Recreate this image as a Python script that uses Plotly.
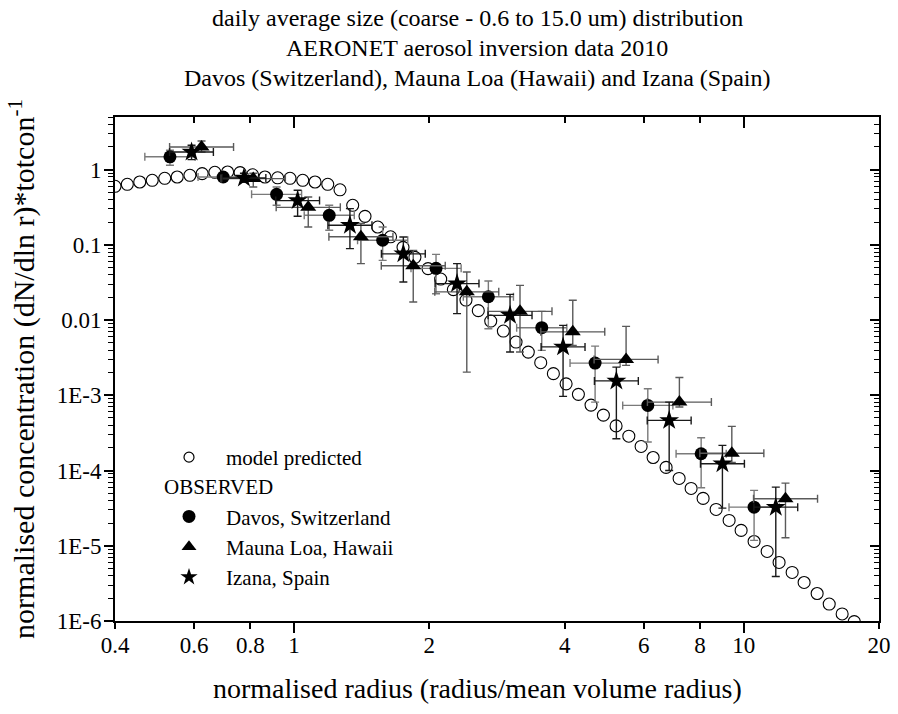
import math
import plotly.graph_objects as go

# ---------------- data ----------------
model_x = [0.400, 0.426, 0.454, 0.484, 0.516, 0.550, 0.587, 0.625, 0.667, 0.712,
           0.759, 0.809, 0.862, 0.920, 0.980, 1.046, 1.114, 1.189, 1.266, 1.351,
           1.439, 1.536, 1.640, 1.748, 1.858, 1.987, 2.120, 2.262, 2.413, 2.570,
           2.739, 2.922, 3.118, 3.320, 3.538, 3.775, 4.029, 4.291, 4.578, 4.877,
           5.204, 5.555, 5.916, 6.291, 6.723, 7.187, 7.642, 8.126, 8.686, 9.284,
           9.872, 10.55, 11.28, 11.99, 12.82, 13.63, 14.57, 15.50, 16.56, 17.62]
model_y = [0.600, 0.637, 0.684, 0.721, 0.766, 0.797, 0.840, 0.885, 0.921, 0.929,
           0.912, 0.853, 0.797, 0.778, 0.766, 0.721, 0.684, 0.637, 0.539, 0.335,
           0.239, 0.1725, 0.1278, 0.0926, 0.0682, 0.0483, 0.0351, 0.0254, 0.01845, 0.01334,
           0.0097, 0.00714, 0.0051, 0.00375, 0.00271, 0.00194, 0.00142, 0.00103, 0.000741, 0.000545,
           0.000392, 0.000286, 0.000209, 0.000149, 0.00011, 7.85e-5, 5.78e-5, 4.26e-5, 3.04e-5, 2.17e-5,
           1.6e-5, 1.14e-5, 8.4e-6, 6.0e-6, 4.42e-6, 3.25e-6, 2.32e-6, 1.68e-6, 1.24e-6, 9.8e-7]

davos_x = [0.530, 0.696, 0.915, 1.198, 1.575, 2.070, 2.706, 3.557, 4.674, 6.122, 8.045, 10.55]
davos_y = [1.48, 0.797, 0.469, 0.247, 0.115, 0.0487, 0.0204, 0.00792, 0.00268, 0.000734, 0.000167, 3.26e-5]
davos_xlo = [0.466, 0.612, 0.805, 1.054, 1.385, 1.821, 2.380, 3.128, 4.111, 5.384, 7.076, 9.279]
davos_xhi = [0.603, 0.791, 1.040, 1.362, 1.791, 2.354, 3.077, 4.044, 5.314, 6.961, 9.147, 12.00]
davos_ylo = [1.141, 0.721, 0.335, 0.156, 0.0622, 0.0224, 0.00768, 0.00395, 0.000812, 0.000239, 5.91e-5, 1.18e-5]
davos_yhi = [1.806, 0.893, 0.588, 0.335, 0.1725, 0.0747, 0.0330, 0.01305, 0.00451, 0.00122, 0.000273, 5.44e-5]

mauna_x = [0.623, 0.812, 1.076, 1.409, 1.842, 2.423, 3.182, 4.169, 5.478, 7.197, 9.413, 12.39]
mauna_y = [2.00, 0.759, 0.315, 0.128, 0.0526, 0.0237, 0.01305, 0.00697, 0.0030, 0.000812, 0.000170, 4.22e-5]
mauna_xlo = [0.529, 0.689, 0.913, 1.196, 1.564, 2.057, 2.701, 3.539, 4.650, 6.110, 7.991, 10.52]
mauna_xhi = [0.734, 0.957, 1.268, 1.660, 2.170, 2.854, 3.748, 4.911, 6.453, 8.478, 11.09, 14.60]
mauna_ylo = [1.714, 0.587, 0.1725, 0.0562, 0.01736, 0.002035, 0.003754, 0.00461, 0.0025, 0.00070, 0.000128, 1.28e-5]
mauna_yhi = [2.401, 0.893, 0.432, 0.193, 0.0845, 0.0435, 0.0289, 0.0183, 0.00824, 0.00172, 0.000386, 6.80e-5]

izana_x = [0.592, 0.774, 1.019, 1.332, 1.751, 2.305, 3.024, 3.967, 5.212, 6.830, 8.971, 11.79]
izana_y = [1.714, 0.773, 0.387, 0.1817, 0.0759, 0.0305, 0.01155, 0.0044, 0.001554, 0.000464, 0.000123, 3.26e-5]
izana_xlo = [0.529, 0.692, 0.911, 1.190, 1.565, 2.060, 2.702, 3.545, 4.658, 6.104, 8.017, 10.54]
izana_xhi = [0.662, 0.866, 1.140, 1.491, 1.959, 2.579, 3.384, 4.439, 5.832, 7.643, 10.04, 13.19]
izana_ylo = [1.358, 0.678, 0.2393, 0.089, 0.032, 0.01217, 0.003754, 0.000967, 0.000265, 0.0001003, 3.16e-5, 3.91e-6]
izana_yhi = [2.104, 0.893, 0.5305, 0.303, 0.127, 0.0562, 0.02197, 0.0085, 0.00237, 0.000812, 0.000216, 6.02e-5]

x_tickvals = [0.4, 0.6, 0.8, 1, 2, 4, 6, 8, 10, 20]
x_ticktext = ["0.4", "0.6", "0.8", "1", "2", "4", "6", "8", "10", "20"]
x_long_ticks = [1, 10]
y_tickvals = [1, 0.1, 0.01, 1e-3, 1e-4, 1e-5, 1e-6]
y_ticktext = ["1", "0.1", "0.01", "1E-3", "1E-4", "1E-5", "1E-6"]

title_lines = ["daily average size (coarse - 0.6 to 15.0 um) distribution",
               "AERONET aerosol inversion data 2010",
               "Davos (Switzerland), Mauna Loa (Hawaii) and Izana (Spain)"]
x_title = "normalised radius (radius/mean volume radius)"
y_title = "normalised concentration (dN/dln r)*totcon<sup>-1</sup>"

# ---------------- figure ----------------
FONT = "Liberation Serif"
W, H = 898, 714
L, R, T, B = 115, 19, 117, 93
XR = [math.log10(0.4), math.log10(20)]
YR = [-6, math.log10(5)]

y_minor = []
for e in range(-6, 1):
    for d in range(2, 10):
        v = d * 10 ** e
        if v <= 5:
            y_minor.append(v)

fig = go.Figure()

fig.add_trace(go.Scatter(
    x=model_x, y=model_y, mode="markers", showlegend=False,
    marker=dict(symbol="circle-open", size=12, color="black", line=dict(width=1.1)),
))


def obs(x, y, xlo, xhi, ylo, yhi, symbol, size, barcolor):
    return go.Scatter(
        x=x, y=y, mode="markers", showlegend=False,
        marker=dict(symbol=symbol, size=size, color="black"),
        error_x=dict(type="data", symmetric=False,
                     array=[h - v for h, v in zip(xhi, x)],
                     arrayminus=[v - l for v, l in zip(x, xlo)],
                     color=barcolor, thickness=1.4, width=4),
        error_y=dict(type="data", symmetric=False,
                     array=[h - v for h, v in zip(yhi, y)],
                     arrayminus=[v - l for v, l in zip(y, ylo)],
                     color=barcolor, thickness=1.4, width=4),
    )


fig.add_trace(obs(davos_x, davos_y, davos_xlo, davos_xhi, davos_ylo, davos_yhi,
                  "circle", 13, "#7a7a7a"))
fig.add_trace(obs(mauna_x, mauna_y, mauna_xlo, mauna_xhi, mauna_ylo, mauna_yhi,
                  "triangle-up", 14, "#5a5a5a"))
fig.add_trace(obs(izana_x, izana_y, izana_xlo, izana_xhi, izana_ylo, izana_yhi,
                  "star", 15, "#1a1a1a"))

# legend entries
fig.add_trace(go.Scatter(x=[None], y=[None], mode="markers", name="model predicted",
                         legendgroup="m",
                         marker=dict(symbol="circle-open", size=10, color="black", line=dict(width=1.2))))
fig.add_trace(go.Scatter(x=[None], y=[None], mode="markers", name="Davos, Switzerland",
                         legendgroup="o", marker=dict(symbol="circle", size=13, color="black")))
fig.add_trace(go.Scatter(x=[None], y=[None], mode="markers", name="Mauna Loa, Hawaii",
                         legendgroup="o", marker=dict(symbol="triangle-up", size=13, color="black")))
fig.add_trace(go.Scatter(x=[None], y=[None], mode="markers", name="Izana, Spain",
                         legendgroup="o", marker=dict(symbol="star", size=13, color="black")))

# dummy traces for mirror axes
fig.add_trace(go.Scatter(x=[None], y=[None], xaxis="x2", yaxis="y2", showlegend=False))

axis_common = dict(showgrid=False, zeroline=False, linecolor="black", linewidth=2,
                   tickcolor="black", tickwidth=1.5, showline=True, automargin=False)

fig.update_layout(
    width=W, height=H,
    margin=dict(l=L, r=R, t=T, b=B, autoexpand=False),
    paper_bgcolor="white", plot_bgcolor="white",
    font=dict(family=FONT, color="black", size=21),
    xaxis=dict(type="log", range=XR, tickmode="array", tickvals=x_tickvals,
               ticktext=x_ticktext, ticks="outside", ticklen=6,
               tickfont=dict(size=23), ticklabelstandoff=-4,
               **axis_common),
    xaxis2=dict(type="log", range=XR, overlaying="x", side="top", anchor="y",
                tickmode="array", tickvals=x_tickvals, ticks="inside", ticklen=6,
                showticklabels=False, **axis_common),
    yaxis=dict(type="log", range=YR, tickmode="array", tickvals=y_tickvals,
               ticktext=y_ticktext, ticks="outside", ticklen=9,
               tickfont=dict(size=23), ticklabelstandoff=-2,
               minor=dict(tickmode="array", tickvals=y_minor, ticks="outside",
                          ticklen=5, tickwidth=1.2, tickcolor="black"),
               title=dict(text=y_title, font=dict(size=30), standoff=13),
               **axis_common),
    yaxis2=dict(type="log", range=YR, overlaying="y", side="right", anchor="x",
                tickmode="array", tickvals=y_tickvals, ticks="inside", ticklen=9,
                showticklabels=False,
                minor=dict(tickmode="array", tickvals=y_minor, ticks="inside",
                           ticklen=5, tickwidth=1.2, tickcolor="black"),
                **axis_common),
    legend=dict(x=(152 - L) / (W - L - R), y=(H - B - 437) / (H - T - B),
                xanchor="left", yanchor="top", bgcolor="rgba(0,0,0,0)",
                font=dict(size=21), itemwidth=64, tracegroupgap=29,
                traceorder="grouped"),
)

# long ticks at decades on x axes (bottom outside, top inside)
fig.update_layout(
    xaxis3=dict(type="log", range=XR, overlaying="x", side="bottom", anchor="y",
                tickmode="array", tickvals=x_long_ticks, ticks="outside", ticklen=11,
                tickwidth=1.8, tickcolor="black", showticklabels=False,
                showline=False, showgrid=False, zeroline=False, automargin=False),
    xaxis4=dict(type="log", range=XR, overlaying="x", side="top", anchor="y",
                tickmode="array", tickvals=x_long_ticks, ticks="inside", ticklen=11,
                tickwidth=1.8, tickcolor="black", showticklabels=False,
                showline=False, showgrid=False, zeroline=False, automargin=False),
)
fig.add_trace(go.Scatter(x=[None], y=[None], xaxis="x3", showlegend=False))
fig.add_trace(go.Scatter(x=[None], y=[None], xaxis="x4", showlegend=False))

pw = W - L - R
ph = H - T - B
for i, (line, yc) in enumerate(zip(title_lines, [18, 48, 78])):
    fig.add_annotation(text=line, xref="paper", yref="paper",
                       x=(477 - L) / pw, y=(H - B - yc) / ph,
                       xanchor="center", yanchor="middle", showarrow=False,
                       font=dict(size=24))

fig.add_annotation(text=x_title, xref="paper", yref="paper",
                   x=(477 - L) / pw, y=(H - B - 688) / ph,
                   xanchor="center", yanchor="middle", showarrow=False,
                   font=dict(size=28))

fig.add_annotation(text="OBSERVED", xref="paper", yref="paper",
                   x=(162 - L) / pw, y=(H - B - 487) / ph,
                   xanchor="left", yanchor="middle", showarrow=False,
                   font=dict(size=21))

fig.write_html("out.html", config={"displayModeBar": False},
               post_script="document.body.style.margin='0';document.body.style.padding='0';")
